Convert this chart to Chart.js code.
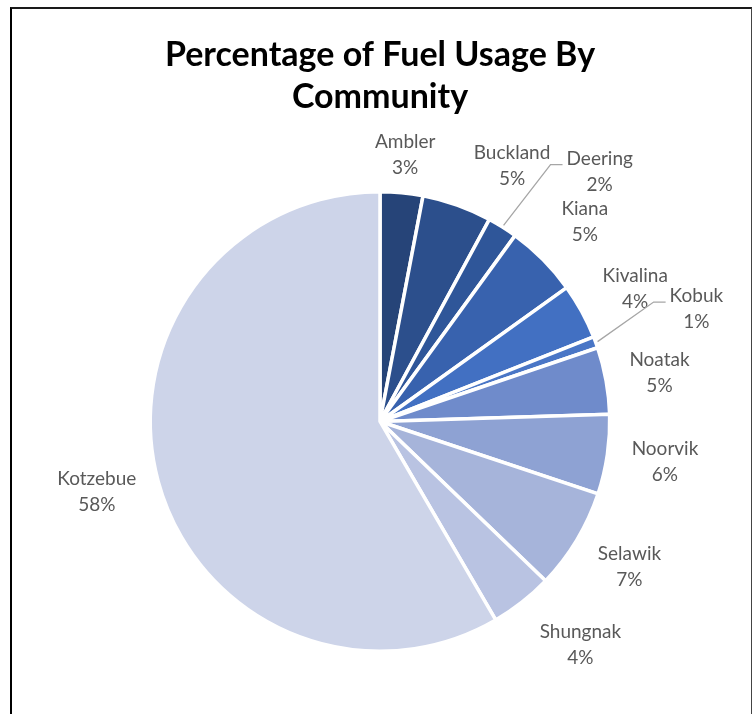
<!DOCTYPE html>
<html>
<head>
<meta charset="utf-8">
<script src="https://cdn.jsdelivr.net/npm/chart.js@4/dist/chart.umd.min.js"></script>
<style>
	html, body { margin: 0; padding: 0; background: #fff; }
	#wrap { position: relative; width: 752px; height: 714px; overflow: hidden; }
	#frame {
		position: absolute; left: 10px; top: 7px; width: 742px; height: 760px;
		box-sizing: border-box;
		border-left: 2px solid #000; border-top: 2px solid #1a1a1a; border-right: 1px solid #444;
		pointer-events: none;
	}
	canvas { position: absolute; left: 0; top: 0; }
</style>
</head>
<body>
<div id="wrap">
	<canvas id="chart" width="752" height="714"></canvas>
	<div id="frame"></div>
</div>
<script>
const communities = ['Ambler', 'Buckland', 'Deering', 'Kiana', 'Kivalina', 'Kobuk', 'Noatak', 'Noorvik', 'Selawik', 'Shungnak', 'Kotzebue'];
const fuelShare = [3.0, 4.9, 2.1, 5.1, 3.9, 0.8, 4.7, 5.6, 7.1, 4.4, 58.4];
const sliceColors = ['#264478', '#2c4f8c', '#2f5699', '#3862ae', '#4270c2', '#4a76c6', '#6f8bcb', '#8ea2d3', '#a6b4da', '#b9c3e2', '#cdd4e9'];

// where each label sits: angle shift (deg) from slice middle, distance beyond the rim (px)
const labelShift = [0, 7.7, 9.1, 0.6, 1.1, 0.6, 0.3, -0.3, -0.9, -3.8, 1.2];
const labelGap = [38, 58, 103, 56, 58, 106, 54, 58, 59, 70, 62];
const withLeader = [false, false, true, false, false, true, false, false, false, false, false];

const labelFont = '19px Lato';
const lineGap = 26;

const labelPlugin = {
	id: 'outsideLabels',
	afterDatasetsDraw(chart) {
		const ctx = chart.ctx;
		const meta = chart.getDatasetMeta(0);
		const total = fuelShare.reduce((a, b) => a + b, 0);
		ctx.save();
		ctx.font = labelFont;
		ctx.textAlign = 'center';
		ctx.textBaseline = 'middle';
		meta.data.forEach((arc, i) => {
			const { x, y, startAngle, endAngle, outerRadius } = arc.getProps(['x', 'y', 'startAngle', 'endAngle', 'outerRadius'], true);
			const mid = (startAngle + endAngle) / 2;
			const a = mid + labelShift[i] * Math.PI / 180;
			const d = outerRadius + labelGap[i];
			const cx = x + Math.cos(a) * d;
			const cy = y + Math.sin(a) * d;
			const name = communities[i];
			const pct = Math.round(fuelShare[i] / total * 100) + '%';
			const y1 = cy - lineGap / 2;
			const y2 = cy + lineGap / 2;

			if (withLeader[i]) {
				const w = ctx.measureText(name).width;
				const left = cx - w / 2;
				const sx = x + Math.cos(mid) * (outerRadius + 2);
				const sy = y + Math.sin(mid) * (outerRadius + 2);
				ctx.strokeStyle = '#a6a6a6';
				ctx.lineWidth = 1.3;
				ctx.beginPath();
				ctx.moveTo(sx, sy);
				ctx.lineTo(left - 16, y1 + 6);
				ctx.lineTo(left - 4, y1 + 6);
				ctx.stroke();
			}

			ctx.fillStyle = '#595959';
			ctx.fillText(name, cx, y1);
			ctx.fillText(pct, cx, y2);
		});
		ctx.restore();
	}
};

new Chart(document.getElementById('chart'), {
	type: 'pie',
	data: {
		labels: communities,
		datasets: [
			{
				data: fuelShare,
				backgroundColor: sliceColors,
				borderColor: '#ffffff',
				borderWidth: 3.5
			}
		]
	},
	options: {
		responsive: false,
		animation: false,
		layout: {
			padding: { top: 0, left: 10, right: 2, bottom: 61 }
		},
		plugins: {
			legend: { display: false },
			tooltip: { enabled: false },
			title: {
				display: true,
				text: ['Percentage of Fuel Usage By', 'Community'],
				color: '#000',
				font: { family: 'Lato', size: 34, weight: 'bold', lineHeight: 1.235 },
				padding: { top: 34, bottom: 72 }
			}
		}
	},
	plugins: [labelPlugin]
});
</script>
</body>
</html>
